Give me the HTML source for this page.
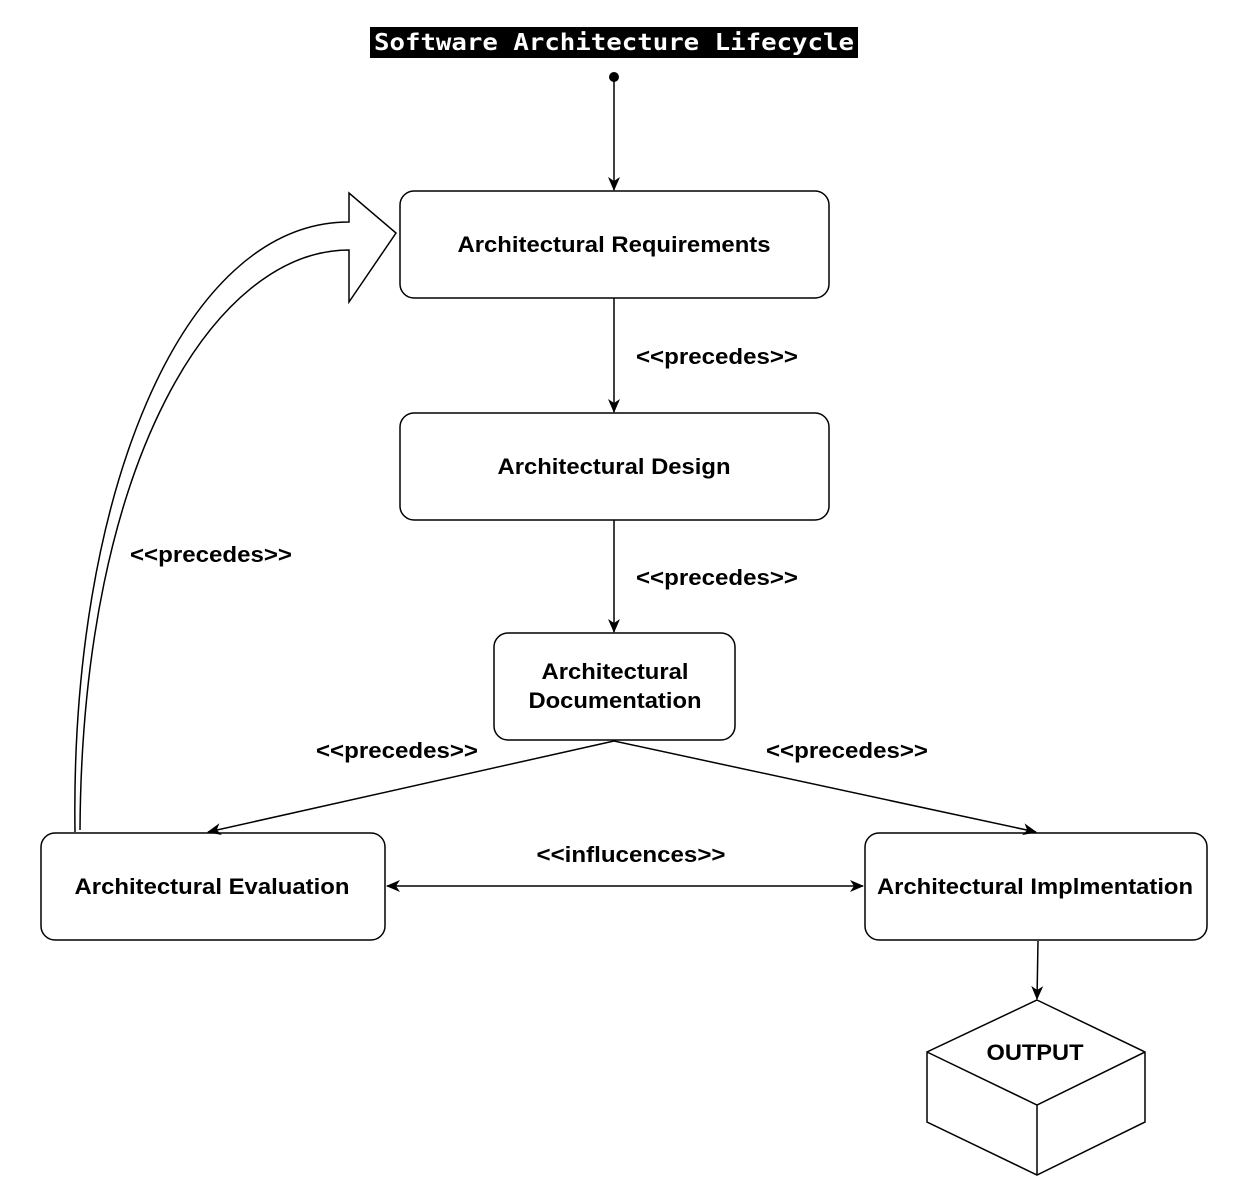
<!DOCTYPE html>
<html><head><meta charset="utf-8"><style>
html,body{margin:0;padding:0;background:#fff;}
svg{display:block;}
text{font-family:"Liberation Sans",Arial,sans-serif;font-weight:bold;fill:#000;}
</style></head><body>
<svg width="1246" height="1186" viewBox="0 0 1246 1186" xmlns="http://www.w3.org/2000/svg">
<defs>
<marker id="as" markerWidth="14" markerHeight="14" refX="13" refY="7" orient="auto-start-reverse" markerUnits="userSpaceOnUse" viewBox="0 0 14 14">
<path d="M0,1 L14,7 L0,13 L4,7 Z" fill="#000"/></marker>
</defs>
<rect x="370" y="27" width="488" height="31" fill="#000"/>
<text x="614" y="50" text-anchor="middle" style="font-family:'DejaVu Sans Mono','Liberation Mono',monospace;font-size:23px;fill:#fff;font-weight:bold" textLength="480" lengthAdjust="spacingAndGlyphs">Software Architecture Lifecycle</text>
<circle cx="614" cy="77" r="5" fill="#000"/>
<g stroke="#000" stroke-width="1.5" fill="none">
<line x1="614" y1="77" x2="614" y2="190" marker-end="url(#as)"/>
<rect x="400" y="191" width="429" height="107" rx="14"/>
<line x1="614" y1="298" x2="614" y2="412" marker-end="url(#as)"/>
<rect x="400" y="413" width="429" height="107" rx="14"/>
<line x1="614" y1="520" x2="614" y2="632" marker-end="url(#as)"/>
<rect x="494" y="633" width="241" height="107" rx="14"/>
<line x1="614" y1="741" x2="208" y2="832" marker-end="url(#as)"/>
<line x1="614" y1="741" x2="1036" y2="832" marker-end="url(#as)"/>
<rect x="41" y="833" width="344" height="107" rx="14"/>
<rect x="865" y="833" width="342" height="107" rx="14"/>
<line x1="387" y1="886" x2="863" y2="886" marker-start="url(#as)" marker-end="url(#as)"/>
<line x1="1038" y1="941" x2="1037" y2="999" marker-end="url(#as)"/>
<path d="M75,832 C70,500 180,222 349,222 L349,193 L396,233 L349,302 L349,250 C215,250 82,460 80,830" fill="#fff"/>
<path d="M1037,1000 L1145,1052 L1145,1122 L1037,1175 L927,1122 L927,1052 Z M927,1052 L1037,1105 L1145,1052 M1037,1105 L1037,1175" fill="#fff"/>
</g>
<g font-size="22">
<text x="614" y="252" text-anchor="middle" textLength="313" lengthAdjust="spacingAndGlyphs">Architectural Requirements</text>
<text x="614" y="474" text-anchor="middle" textLength="233" lengthAdjust="spacingAndGlyphs">Architectural Design</text>
<text x="615" y="679" text-anchor="middle" textLength="147" lengthAdjust="spacingAndGlyphs">Architectural</text>
<text x="615" y="708" text-anchor="middle" textLength="173" lengthAdjust="spacingAndGlyphs">Documentation</text>
<text x="212" y="894" text-anchor="middle" textLength="275" lengthAdjust="spacingAndGlyphs">Architectural Evaluation</text>
<text x="1035" y="894" text-anchor="middle" textLength="316" lengthAdjust="spacingAndGlyphs">Architectural Implmentation</text>
<text x="1035" y="1060" text-anchor="middle" textLength="97" lengthAdjust="spacingAndGlyphs">OUTPUT</text>
<text x="717" y="364" text-anchor="middle" textLength="162" lengthAdjust="spacingAndGlyphs">&lt;&lt;precedes&gt;&gt;</text>
<text x="717" y="585" text-anchor="middle" textLength="162" lengthAdjust="spacingAndGlyphs">&lt;&lt;precedes&gt;&gt;</text>
<text x="211" y="562" text-anchor="middle" textLength="162" lengthAdjust="spacingAndGlyphs">&lt;&lt;precedes&gt;&gt;</text>
<text x="397" y="758" text-anchor="middle" textLength="162" lengthAdjust="spacingAndGlyphs">&lt;&lt;precedes&gt;&gt;</text>
<text x="847" y="758" text-anchor="middle" textLength="162" lengthAdjust="spacingAndGlyphs">&lt;&lt;precedes&gt;&gt;</text>
<text x="631" y="862" text-anchor="middle" textLength="189" lengthAdjust="spacingAndGlyphs">&lt;&lt;influcences&gt;&gt;</text>
</g>
</svg>
</body></html>
